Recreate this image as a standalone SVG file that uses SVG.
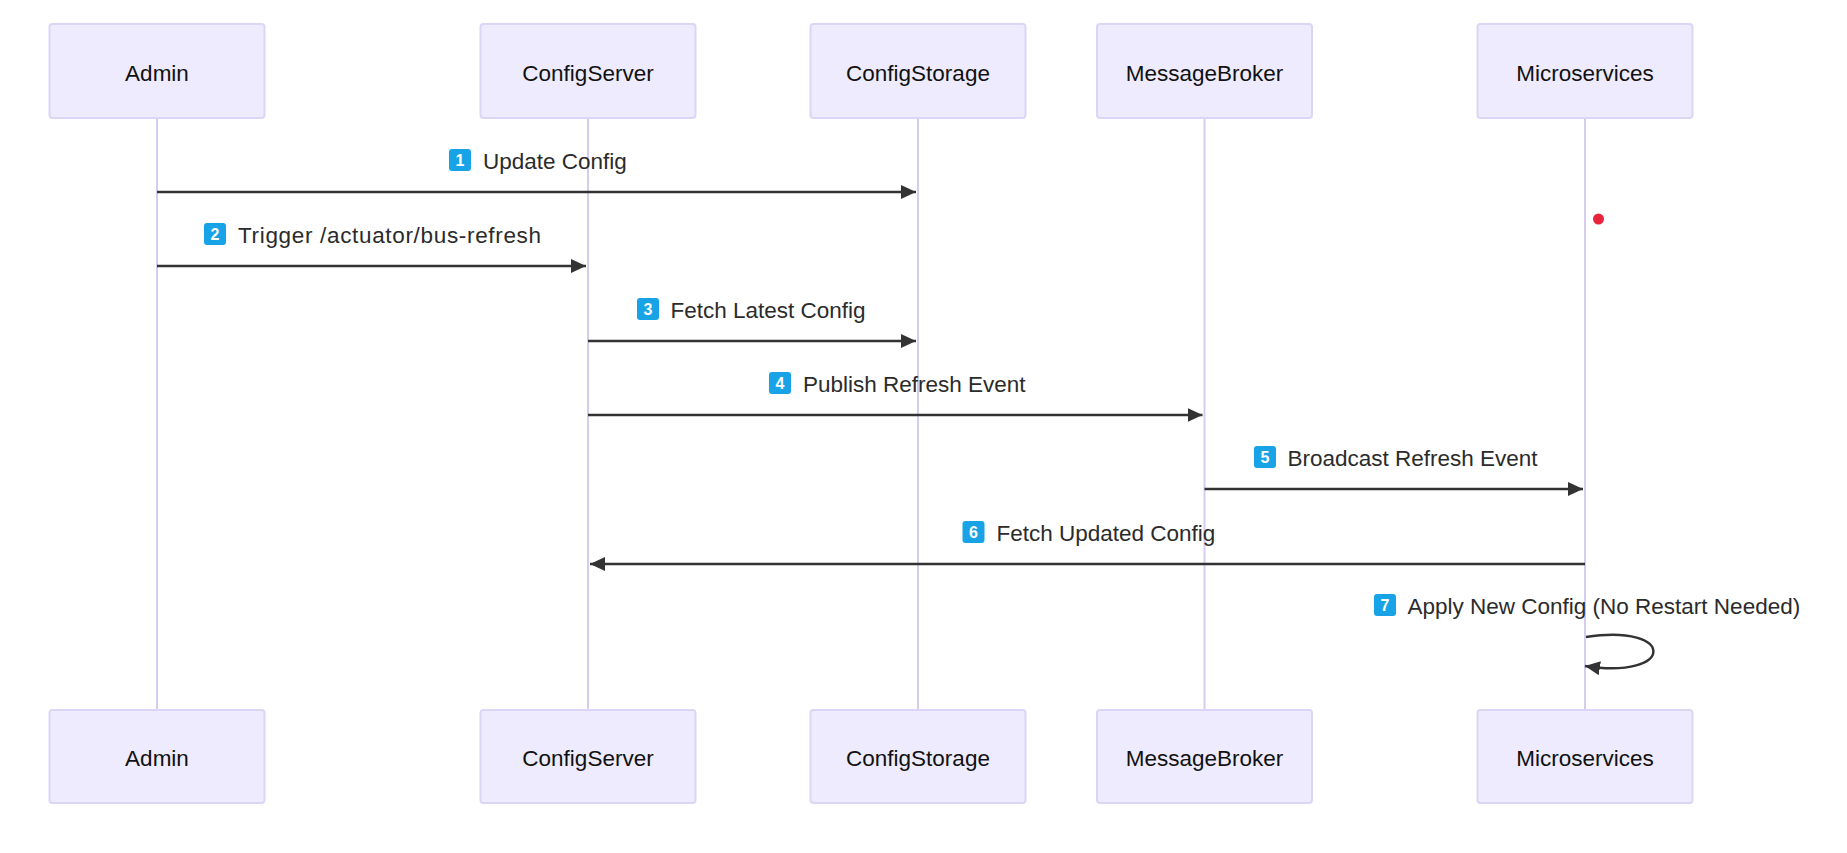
<svg xmlns="http://www.w3.org/2000/svg" width="1847" height="853" viewBox="0 0 1847 853">
<style>
.actor rect{fill:#EDEBFD;stroke:#DCD5F5;stroke-width:2}
.actor text{font-family:"Liberation Sans",Arial,sans-serif;font-size:22.5px;fill:#111;text-anchor:middle}
.life{stroke:#D6CCF0;stroke-width:2}
.msg{stroke:#333;stroke-width:2.5;fill:none}
.lbl{font-family:"Liberation Sans",Arial,sans-serif;font-size:22.5px;fill:#2b2b2b}
.badge{fill:#18A3E6}
.num{font-family:"Liberation Sans",Arial,sans-serif;font-size:16px;font-weight:bold;fill:#fff;text-anchor:middle}
</style>
<defs>
<marker id="arr" markerUnits="userSpaceOnUse" markerWidth="16" markerHeight="16" refX="15" refY="7" orient="auto">
<path d="M0,0 L15,7 L0,14 Z" fill="#333"/>
</marker>
</defs>
<rect width="1847" height="853" fill="#fff"/>
<g id="lifelines">
<line class="life" x1="157" y1="118" x2="157" y2="710"/>
<line class="life" x1="588" y1="118" x2="588" y2="710"/>
<line class="life" x1="918" y1="118" x2="918" y2="710"/>
<line class="life" x1="1204.5" y1="118" x2="1204.5" y2="710"/>
<line class="life" x1="1585" y1="118" x2="1585" y2="710"/>
</g>
<g id="actor-admin" class="actor">
<rect x="49.5" y="24" width="215" height="94" rx="3"/><text x="157" y="80.5">Admin</text>
<rect x="49.5" y="710" width="215" height="93" rx="3"/><text x="157" y="765.5">Admin</text>
</g>
<g id="actor-configserver" class="actor">
<rect x="480.5" y="24" width="215" height="94" rx="3"/><text x="588" y="80.5">ConfigServer</text>
<rect x="480.5" y="710" width="215" height="93" rx="3"/><text x="588" y="765.5">ConfigServer</text>
</g>
<g id="actor-configstorage" class="actor">
<rect x="810.5" y="24" width="215" height="94" rx="3"/><text x="918" y="80.5">ConfigStorage</text>
<rect x="810.5" y="710" width="215" height="93" rx="3"/><text x="918" y="765.5">ConfigStorage</text>
</g>
<g id="actor-messagebroker" class="actor">
<rect x="1097" y="24" width="215" height="94" rx="3"/><text x="1204.5" y="80.5">MessageBroker</text>
<rect x="1097" y="710" width="215" height="93" rx="3"/><text x="1204.5" y="765.5">MessageBroker</text>
</g>
<g id="actor-microservices" class="actor">
<rect x="1477.5" y="24" width="215" height="94" rx="3"/><text x="1585" y="80.5">Microservices</text>
<rect x="1477.5" y="710" width="215" height="93" rx="3"/><text x="1585" y="765.5">Microservices</text>
</g>
<g id="connectors">
<line class="msg" x1="157" y1="192" x2="916" y2="192" marker-end="url(#arr)"/>
<line class="msg" x1="157" y1="266" x2="586" y2="266" marker-end="url(#arr)"/>
<line class="msg" x1="588" y1="341" x2="916" y2="341" marker-end="url(#arr)"/>
<line class="msg" x1="588" y1="415" x2="1202.5" y2="415" marker-end="url(#arr)"/>
<line class="msg" x1="1204.5" y1="489" x2="1583" y2="489" marker-end="url(#arr)"/>
<line class="msg" x1="1585" y1="564" x2="590" y2="564" marker-end="url(#arr)"/>
<path class="msg" d="M1586,637 C1676,623 1676,680 1585,666" marker-end="url(#arr)"/>
</g>
<g id="labels">
<rect class="badge" x="449" y="149" width="22" height="22" rx="3"/><text class="num" x="460" y="166">1</text><text class="lbl" x="483" y="169">Update Config</text>
<rect class="badge" x="204" y="223" width="22" height="22" rx="3"/><text class="num" x="215" y="240">2</text><text class="lbl" x="238" y="243" textLength="303" lengthAdjust="spacing">Trigger /actuator/bus-refresh</text>
<rect class="badge" x="637" y="298" width="22" height="22" rx="3"/><text class="num" x="648" y="315">3</text><text class="lbl" x="670.5" y="318">Fetch Latest Config</text>
<rect class="badge" x="769" y="372" width="22" height="22" rx="3"/><text class="num" x="780" y="389">4</text><text class="lbl" x="803" y="392">Publish Refresh Event</text>
<rect class="badge" x="1254" y="446" width="22" height="22" rx="3"/><text class="num" x="1265" y="463">5</text><text class="lbl" x="1287.5" y="466">Broadcast Refresh Event</text>
<rect class="badge" x="962.5" y="521" width="22" height="22" rx="3"/><text class="num" x="973.5" y="538">6</text><text class="lbl" x="996.5" y="541">Fetch Updated Config</text>
<rect class="badge" x="1374" y="594" width="22" height="22" rx="3"/><text class="num" x="1385" y="611">7</text><text class="lbl" x="1407.5" y="614">Apply New Config (No Restart Needed)</text>
</g>
<circle cx="1598.5" cy="219" r="5.5" fill="#E8243C"/>
</svg>
